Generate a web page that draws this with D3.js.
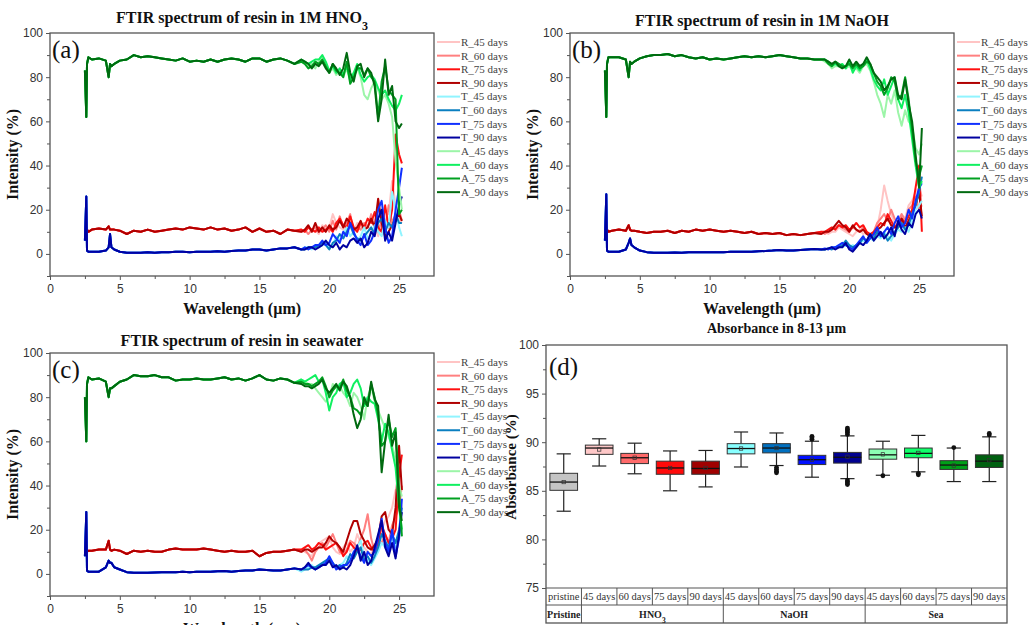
<!DOCTYPE html>
<html>
<head>
<meta charset="utf-8">
<script src="https://cdn.jsdelivr.net/npm/d3@7"></script>
<style>
  body { margin: 0; background: #fff; }
  svg { display: block; }
</style>
</head>
<body>
<svg width="1028" height="625"></svg>
<script>
// ---------- spectra data (wavelength in µm, intensity in %) ----------
const legendNames = ['R_45 days', 'R_60 days', 'R_75 days', 'R_90 days',
                     'T_45 days', 'T_60 days', 'T_75 days', 'T_90 days',
                     'A_45 days', 'A_60 days', 'A_75 days', 'A_90 days']
const lineColors = ['#ffc4c4', '#ff8080', '#ff1010', '#b00000',
                    '#90f4ff', '#0a7fc0', '#1030ff', '#0000a0',
                    '#9cf5a8', '#10f060', '#00a020', '#006a10']

const headX = [2.5, 2.6, 2.65, 2.75, 3, 3.5, 4, 4.2, 4.3, 4.4, 4.6, 5, 5.5, 6, 6.5, 7, 7.5, 8, 8.5, 9,
               9.5, 10, 10.5, 11, 11.5, 12, 12.5, 13, 13.5, 14, 14.5, 15, 15.5, 16, 16.5, 17, 17.5]
const tailX = [18, 18.25, 18.5, 18.75, 19, 19.25, 19.5, 19.75, 20, 20.25, 20.5, 20.75, 21, 21.25, 21.5,
               21.75, 22, 22.25, 22.5, 22.75, 23, 23.25, 23.5, 23.75, 24, 24.25, 24.5, 24.75, 25, 25.2]

// (a) 1M HNO3
const hno3HeadR = [10, 12, 11, 10, 11, 11.5, 11, 12.5, 11, 11, 11, 10.5, 9, 10.5, 10, 11, 10, 10.5, 11, 11.5, 11, 12, 11.5, 11, 12, 11, 11.5, 10.5, 11, 12, 10, 11.5, 10, 10.5, 9, 11, 10.5]
const hno3HeadT = [6, 26, 1.5, 1, 1, 1, 1.5, 3, 9, 3, 2, 1, 0.5, 0.5, 0.5, 0.7, 0.5, 0.8, 0.7, 1, 1, 0.8, 1, 1, 1, 1.2, 1, 1.3, 1.5, 1.5, 2, 2, 1.5, 2, 2.5, 2.5, 3]
const hno3HeadA = [83, 62, 86, 89, 88, 88.5, 87.5, 80, 86, 85, 86, 87.5, 88, 90, 89, 89.5, 89, 88.5, 88, 87.5, 88.5, 87, 87.5, 87, 88, 87, 88, 88.5, 88, 87, 88.5, 88.5, 87, 88, 88.5, 87.5, 86]
const hno3Tails = [
  [11, 10, 12, 10, 11, 9, 13, 11, 12, 18, 14, 12, 11, 13, 12, 10, 14, 12, 11, 13, 10, 12, 8, 14, 20, 18, 33, 22, 16, 14],
  [10, 11, 9, 11, 12, 10, 11, 13, 10, 15, 11, 17, 12, 14, 18, 10, 12, 11, 14, 12, 18, 12, 10, 15, 12, 22, 14, 18, 20, 15],
  [11, 10, 12, 11, 10, 12, 10, 11, 12, 10, 14, 16, 13, 12, 17, 12, 10, 14, 12, 16, 14, 19, 12, 10, 22, 12, 20, 54, 45, 41],
  [10, 11, 13, 10, 14, 10, 12, 10, 13, 11, 12, 15, 12, 16, 14, 11, 12, 15, 11, 12, 16, 12, 25, 14, 8, 10, 13, 16, 18, 15],
  [2, 3, 3, 2, 4, 3, 4, 5, 3, 4, 8, 6, 9, 12, 8, 10, 6, 8, 12, 7, 9, 13, 10, 8, 15, 12, 28, 20, 12, 8],
  [2, 2, 3, 3, 3, 4, 5, 4, 2, 5, 6, 9, 7, 10, 13, 9, 7, 6, 8, 10, 12, 9, 14, 16, 10, 14, 12, 18, 14, 14],
  [2, 3, 2, 3, 4, 4, 6, 4, 5, 9, 7, 5, 10, 8, 14, 10, 6, 4, 9, 4, 6, 10, 20, 24, 12, 5, 8, 20, 30, 39],
  [2, 2, 3, 3, 2, 3, 4, 6, 4, 3, 5, 2, 4, 3, 6, 7, 5, 7, 3, 5, 10, 8, 16, 20, 6, 10, 6, 14, 22, 26],
  [87, 86, 85, 86, 84, 87, 89, 86, 82, 84, 81, 83, 80, 84, 78, 81, 84, 80, 72, 70, 75, 78, 74, 70, 72, 68, 62, 42, 30, 20],
  [88, 87, 86, 87, 88, 88, 90, 87, 83, 85, 82, 84, 81, 85, 79, 82, 86, 81, 78, 80, 81, 79, 75, 72, 74, 70, 67, 65, 68, 72],
  [87, 86, 84, 85, 87, 86, 88, 85, 82, 86, 83, 82, 80, 87, 77, 80, 84, 84, 81, 84, 80, 78, 62, 78, 85, 74, 72, 70, 18, 20],
  [88, 87, 86, 84, 86, 85, 87, 84, 82, 86, 84, 81, 84, 91, 82, 78, 85, 86, 80, 84, 82, 76, 60, 70, 88, 72, 76, 60, 57, 59]
]

// (b) 1M NaOH
const naohHeadR = [9, 12, 11, 10, 10.5, 11, 10.5, 13, 11, 10.5, 10.5, 10, 9.5, 10, 10, 10.5, 9.5, 10.5, 10, 11, 10.5, 11, 10.5, 10, 10.5, 10, 9.5, 10, 9, 9.5, 9, 9.5, 8.5, 9, 8.5, 9, 9.5]
const naohHeadT = [6, 27, 1.5, 1, 1, 1, 2, 5, 7, 4, 3, 1.5, 0.8, 0.5, 0.5, 0.5, 0.6, 0.5, 0.7, 0.8, 0.8, 0.7, 0.8, 0.8, 1, 1, 1, 1, 1.2, 1.3, 1.5, 1.8, 1.5, 1.5, 1.8, 2, 2.2]
const naohHeadA = [83, 62, 86, 89, 89, 89, 88, 80, 87, 86, 87, 88.5, 89.5, 90, 90, 90.5, 89.5, 90, 89, 88.5, 89, 88, 88.5, 88, 88.5, 89, 89.5, 89, 89.5, 89, 89.5, 90, 89.5, 89, 88.5, 88.5, 88]
const naohTails = [
  [9, 10, 9, 10, 10, 12, 11, 10, 9, 8, 10, 11, 9, 10, 8, 9, 12, 20, 31, 24, 18, 14, 16, 18, 16, 22, 24, 28, 30, 26],
  [10, 9, 10, 11, 12, 13, 12, 11, 10, 12, 11, 10, 12, 9, 8, 10, 14, 16, 18, 15, 20, 16, 14, 18, 15, 20, 22, 26, 20, 22],
  [10, 10, 11, 12, 11, 13, 12, 13, 11, 12, 14, 12, 13, 10, 9, 10, 12, 14, 13, 18, 15, 12, 14, 16, 14, 17, 20, 30, 40, 10],
  [9, 10, 10, 11, 13, 15, 13, 12, 10, 13, 11, 10, 11, 9, 8, 9, 11, 12, 14, 16, 13, 12, 12, 16, 12, 15, 18, 22, 28, 17],
  [2, 2, 2.5, 3, 3, 4, 3, 4, 3, 4, 3, 5, 6, 5, 7, 6, 8, 7, 10, 8, 6, 9, 11, 10, 12, 10, 15, 20, 22, 24],
  [2, 2, 2.5, 2, 3, 3, 4, 6, 4, 3, 4, 5, 7, 6, 9, 7, 10, 8, 9, 6, 8, 10, 12, 14, 11, 13, 18, 22, 28, 35],
  [2, 2.5, 2, 3, 3, 4, 5, 4, 3, 2, 4, 6, 8, 5, 7, 9, 12, 8, 10, 12, 9, 14, 17, 12, 14, 20, 16, 24, 30, 32],
  [2, 2, 2.5, 3, 2, 3, 3, 5, 2, 1, 3, 5, 4, 6, 9, 6, 8, 10, 7, 9, 12, 8, 15, 11, 9, 14, 12, 18, 20, 16],
  [88, 87, 86, 84, 85, 85, 85, 84, 85, 83, 84, 82, 85, 86, 83, 78, 72, 68, 62, 72, 68, 74, 64, 58, 65, 60, 58, 48, 45, 50],
  [88, 88, 87, 85, 86, 85, 86, 84, 87, 82, 85, 83, 86, 88, 84, 79, 76, 74, 79, 72, 76, 80, 70, 66, 72, 64, 52, 40, 30, 33],
  [88, 88, 86, 85, 87, 86, 85, 85, 86, 84, 86, 84, 85, 87, 86, 82, 78, 76, 72, 75, 80, 78, 70, 72, 80, 70, 56, 42, 35, 40],
  [88, 88, 87, 86, 87, 85, 84, 85, 88, 85, 87, 85, 86, 89, 86, 82, 80, 78, 74, 76, 79, 80, 72, 70, 79, 68, 60, 45, 30, 57]
]

// (c) seawater
const seaHeadR = [9, 11, 10, 10.5, 10.5, 11, 11, 15, 11, 10.5, 11, 10.5, 9, 10.5, 10, 10.5, 10, 10, 11, 11.5, 11, 11, 11, 11.5, 11, 10.5, 10, 10.5, 10, 10, 10.5, 8, 9.5, 10, 10, 10.5, 11]
const seaHeadT = [8, 28, 1.5, 1, 1, 1, 3, 6, 5, 5, 3, 2, 0.8, 0.5, 0.5, 0.5, 0.6, 0.7, 0.8, 0.8, 1, 0.8, 1, 1, 1, 1.2, 1.3, 1, 1.3, 1.5, 1.5, 2, 1.8, 1.5, 1.5, 2, 2.5]
const seaHeadA = [80, 60, 86, 89, 88, 88.5, 87, 80, 84, 84, 85, 87, 88, 90, 89.5, 89.5, 90, 89, 89, 87.5, 88, 88, 88.5, 88, 88, 88.5, 89, 88, 88.5, 87.5, 88.5, 90, 88, 87.5, 88.5, 88, 86.5]
const seaTails = [
  [11, 10, 9, 8, 12, 14, 15, 16, 17, 12, 10, 9, 12, 14, 10, 12, 18, 14, 12, 10, 9, 12, 14, 20, 24, 26, 30, 38, 35, 30],
  [10, 11, 9, 6, 10, 12, 14, 12, 15, 18, 14, 10, 9, 11, 15, 14, 12, 16, 20, 27, 16, 10, 12, 14, 18, 14, 22, 26, 30, 40],
  [11, 12, 13, 11, 12, 14, 13, 11, 12, 13, 14, 12, 8, 10, 14, 12, 10, 11, 14, 15, 12, 10, 14, 22, 18, 14, 16, 20, 45, 54],
  [10, 11, 11, 10, 11, 12, 12, 14, 17, 15, 14, 12, 10, 15, 20, 24, 24, 18, 15, 12, 11, 13, 16, 26, 28, 20, 18, 30, 58, 38],
  [1, 2, 3, 4, 2, 3, 4, 5, 6, 4, 3, 4, 5, 8, 6, 10, 12, 15, 8, 6, 4, 7, 10, 14, 12, 10, 16, 12, 18, 20],
  [2, 2, 2, 3, 3, 4, 5, 6, 7, 5, 3, 4, 3, 5, 9, 7, 10, 12, 6, 8, 5, 8, 12, 18, 15, 12, 18, 14, 20, 30],
  [2, 3, 4, 3, 2, 3, 4, 5, 8, 5, 2, 3, 4, 4, 6, 10, 12, 8, 5, 10, 8, 10, 16, 25, 14, 10, 20, 8, 16, 34],
  [2, 3, 5, 3, 2, 3, 4, 4, 6, 3, 4, 2, 3, 2, 4, 8, 13, 6, 10, 4, 6, 12, 18, 24, 12, 8, 14, 7, 18, 28],
  [88, 87, 86, 86, 84, 82, 80, 78, 80, 86, 84, 85, 82, 80, 76, 82, 80, 76, 70, 80, 85, 78, 74, 70, 66, 62, 58, 52, 40, 35],
  [88, 87, 88, 89, 90, 87, 88, 82, 74, 80, 82, 86, 87, 80, 82, 86, 88, 84, 76, 80, 78, 77, 70, 60, 68, 64, 56, 48, 30, 20],
  [87, 86, 86, 85, 86, 87, 89, 85, 80, 83, 85, 84, 88, 83, 80, 75, 74, 72, 78, 76, 86, 80, 72, 58, 60, 70, 62, 66, 38, 17],
  [86, 85, 85, 84, 85, 86, 88, 84, 82, 84, 86, 83, 87, 85, 80, 72, 66, 70, 80, 76, 87, 79, 76, 46, 60, 72, 58, 64, 30, 24]
]

// ---------- box plot data (absorbance in 8-13 µm, %) ----------
const boxCats = ['pristine', '45 days', '60 days', '75 days', '90 days', '45 days', '60 days', '75 days', '90 days',
                 '45 days', '60 days', '75 days', '90 days']
const boxGroups = ['Pristine', 'HNO3', 'NaOH', 'Sea']
const groupSpans = [1, 4, 4, 4]
const boxColors = ['#c4c4c4', '#ffc8c8', '#ff6a6a', '#ff0a0a', '#a00000', '#88ffff', '#0070c0', '#0010ff', '#000090',
                   '#8cffb4', '#10ff6a', '#00a018', '#006010']
const whiskLow = [82.9, 87.55, 86.75, 85.0, 85.4, 87.45, 87.6, 86.4, 86.25, 86.6, 86.95, 85.95, 85.95]
const q1s      = [85.05, 88.75, 87.8, 86.7, 86.7, 88.8, 88.9, 87.7, 87.85, 88.25, 88.4, 87.2, 87.4]
const medians  = [85.9, 89.4, 88.4, 87.35, 87.3, 89.35, 89.4, 88.2, 88.45, 88.7, 88.85, 87.65, 88.05]
const q3s      = [86.8, 89.7, 88.85, 88.05, 88.05, 89.85, 89.85, 88.65, 88.95, 89.3, 89.4, 88.1, 88.7]
const whiskHigh = [88.8, 90.35, 89.9, 89.1, 89.15, 91.05, 90.95, 90.1, 90.65, 90.1, 90.7, 89.4, 90.55]
const means    = [85.9, 89.25, 88.4, 87.35, 87.35, 89.35, 89.4, 88.2, 88.5, 88.75, 88.9, 87.6, 88.15]
const outliers = [[], [], [], [], [], [], [87.4, 87.2, 87.0, 86.85], [90.3, 90.45, 90.6],
                  [90.8, 91.0, 91.15, 91.3, 91.45, 86.1, 85.95, 85.8, 85.65], [86.55], [86.8, 86.65], [89.45], [90.75, 90.9]]

// ---------- drawing ----------
const svg = d3.select('svg')
const serif = '"Liberation Serif", "Times New Roman", serif'
const sans = '"Liberation Sans", Arial, sans-serif'
const axisColor = '#555'

function styleAxis(sel) {
  sel.select('.domain').remove()
  sel.selectAll('line').attr('stroke', axisColor)
  sel.selectAll('text').attr('fill', '#333').style('font-family', sans).style('font-size', '12px')
}

function chemText(sel, parts) {
  // parts: [text, isSub]
  parts.forEach(([t, sub]) => {
    const ts = sel.append('tspan').text(t)
    if (sub) ts.attr('baseline-shift', 'sub').style('font-size', '0.75em')
  })
}

function drawSpectrum(p) {
  const x = d3.scaleLinear().domain([0, 27.5]).range([p.left, p.right])
  const y = d3.scaleLinear().domain([-10, 100]).range([p.bottom, p.top])
  const g = svg.append('g')

  g.append('g').attr('transform', `translate(0,${p.bottom})`)
    .call(d3.axisBottom(x).tickValues([0, 5, 10, 15, 20, 25]).tickSize(4).tickPadding(4))
    .call(styleAxis)
  g.append('g').attr('transform', `translate(0,${p.bottom})`)
    .call(d3.axisBottom(x).tickValues([2.5, 7.5, 12.5, 17.5, 22.5]).tickSize(3).tickFormat(''))
    .call(styleAxis)
  g.append('g').attr('transform', `translate(${p.left},0)`)
    .call(d3.axisLeft(y).tickValues([0, 20, 40, 60, 80, 100]).tickSize(4).tickPadding(3))
    .call(styleAxis)
  g.append('g').attr('transform', `translate(${p.left},0)`)
    .call(d3.axisLeft(y).tickValues([-10, 10, 30, 50, 70, 90]).tickSize(3).tickFormat(''))
    .call(styleAxis)

  const line = d3.line().x(d => x(d[0])).y(d => y(d[1]))
  const allX = headX.concat(tailX)
  const series = p.tails.map((tail, i) => {
    const head = i < 4 ? p.headR : i < 8 ? p.headT : p.headA
    const vals = head.concat(tail)
    return { name: legendNames[i], color: lineColors[i], pts: allX.map((xv, j) => [xv, vals[j]]) }
  })

  g.append('g').selectAll('path')
    .data(series)
    .join('path')
    .attr('d', d => line(d.pts))
    .attr('fill', 'none')
    .attr('stroke', d => d.color)
    .attr('stroke-width', 2)
    .attr('stroke-linejoin', 'round')

  g.append('rect')
    .attr('x', p.left).attr('y', p.top)
    .attr('width', p.right - p.left).attr('height', p.bottom - p.top)
    .attr('fill', 'none').attr('stroke', axisColor).attr('stroke-width', 1.3)

  // title
  const t = g.append('text')
    .attr('x', (p.left + p.right) / 2).attr('y', p.titleY)
    .attr('text-anchor', 'middle')
    .style('font-family', serif).style('font-weight', 'bold').style('font-size', '16px')
    .attr('fill', '#111')
  chemText(t, p.title)

  g.append('text')
    .attr('x', p.left + 2).attr('y', p.top + 25)
    .style('font-family', serif).style('font-size', '25px').attr('fill', '#111')
    .text(p.tag)

  g.append('text')
    .attr('transform', `translate(${p.left - 32},${(p.top + p.bottom) / 2}) rotate(-90)`)
    .attr('text-anchor', 'middle')
    .style('font-family', serif).style('font-weight', 'bold').style('font-size', '16px')
    .attr('fill', '#111')
    .text('Intensity (%)')

  g.append('text')
    .attr('x', (p.left + p.right) / 2).attr('y', p.bottom + 38)
    .attr('text-anchor', 'middle')
    .style('font-family', serif).style('font-weight', 'bold').style('font-size', '16px')
    .attr('fill', '#111')
    .text('Wavelength (µm)')

  // legend
  const lg = g.append('g').attr('transform', `translate(${p.right + 3},${p.top + 9})`)
  const item = lg.selectAll('g').data(series).join('g')
    .attr('transform', (d, i) => `translate(0,${i * 13.65})`)
  item.append('line').attr('x1', 0).attr('x2', 23)
    .attr('stroke', d => d.color).attr('stroke-width', 2)
  item.append('text').attr('x', 24).attr('dy', '0.35em')
    .style('font-family', serif).style('font-size', '11px').attr('fill', '#444')
    .text(d => d.name)
}

drawSpectrum({ left: 50, right: 434, top: 33, bottom: 276, titleY: 23, tag: '(a)',
  title: [['FTIR spectrum of resin in 1M HNO', false], ['3', true]],
  headR: hno3HeadR, headT: hno3HeadT, headA: hno3HeadA, tails: hno3Tails })
drawSpectrum({ left: 570, right: 954, top: 33, bottom: 276, titleY: 26, tag: '(b)',
  title: [['FTIR spectrum of resin in 1M NaOH', false]],
  headR: naohHeadR, headT: naohHeadT, headA: naohHeadA, tails: naohTails })
drawSpectrum({ left: 50, right: 434, top: 353, bottom: 596, titleY: 346, tag: '(c)',
  title: [['FTIR spectrum of resin in seawater', false]],
  headR: seaHeadR, headT: seaHeadT, headA: seaHeadA, tails: seaTails })

// ---------- (d) box plot ----------
const dL = 546, dR = 1007, dT = 345, dB = 588, row1 = 605, row2 = 623
const bx = d3.scaleBand().domain(d3.range(boxCats.length)).range([dL, dR])
const by = d3.scaleLinear().domain([75, 100]).range([dB, dT])
const dg = svg.append('g')

dg.append('g').attr('transform', `translate(${dL},0)`)
  .call(d3.axisLeft(by).tickValues([75, 80, 85, 90, 95, 100]).tickSize(4).tickPadding(3))
  .call(styleAxis)
dg.append('g').attr('transform', `translate(${dL},0)`)
  .call(d3.axisLeft(by).tickValues([77.5, 82.5, 87.5, 92.5, 97.5]).tickSize(3).tickFormat(''))
  .call(styleAxis)

const bw = bx.bandwidth()
const boxes = dg.append('g').selectAll('g')
  .data(boxCats.map((c, i) => ({ i, lo: whiskLow[i], q1: q1s[i], med: medians[i], q3: q3s[i],
    hi: whiskHigh[i], mean: means[i], out: outliers[i], color: boxColors[i] })))
  .join('g')
  .attr('transform', d => `translate(${bx(d.i) + bw / 2},0)`)

boxes.append('line').attr('y1', d => by(d.lo)).attr('y2', d => by(d.hi))
  .attr('stroke', '#222').attr('stroke-width', 1.2)
boxes.selectAll('.cap').data(d => [d.lo, d.hi]).join('line').classed('cap', true)
  .attr('x1', -bw * 0.2).attr('x2', bw * 0.2)
  .attr('y1', v => by(v)).attr('y2', v => by(v))
  .attr('stroke', '#222').attr('stroke-width', 1.2)
boxes.append('rect')
  .attr('x', -bw * 0.39).attr('width', bw * 0.78)
  .attr('y', d => by(d.q3)).attr('height', d => by(d.q1) - by(d.q3))
  .attr('fill', d => d.color).attr('stroke', '#333').attr('stroke-width', 1)
boxes.append('line').attr('x1', -bw * 0.39).attr('x2', bw * 0.39)
  .attr('y1', d => by(d.med)).attr('y2', d => by(d.med))
  .attr('stroke', '#111').attr('stroke-width', 1.3)
boxes.append('rect')
  .attr('x', -1.7).attr('width', 3.4)
  .attr('y', d => by(d.mean) - 1.7).attr('height', 3.4)
  .attr('fill', 'none').attr('stroke', '#333').attr('stroke-width', 0.7)
boxes.selectAll('circle').data(d => d.out).join('circle')
  .attr('cx', 0).attr('cy', v => by(v)).attr('r', 2.4).attr('fill', '#111')

// frame and table
dg.append('rect').attr('x', dL).attr('y', dT).attr('width', dR - dL).attr('height', row2 - dT)
  .attr('fill', 'none').attr('stroke', axisColor).attr('stroke-width', 1.3)
dg.append('line').attr('x1', dL).attr('x2', dR).attr('y1', dB).attr('y2', dB)
  .attr('stroke', axisColor).attr('stroke-width', 1.2)
dg.append('line').attr('x1', dL).attr('x2', dR).attr('y1', row1).attr('y2', row1)
  .attr('stroke', axisColor).attr('stroke-width', 1)
dg.selectAll('.cellsep').data(d3.range(1, boxCats.length)).join('line').classed('cellsep', true)
  .attr('x1', i => bx(i)).attr('x2', i => bx(i)).attr('y1', dB).attr('y2', row1)
  .attr('stroke', axisColor).attr('stroke-width', 1)
dg.selectAll('.cell').data(boxCats).join('text').classed('cell', true)
  .attr('x', (c, i) => bx(i) + bw / 2).attr('y', (dB + row1) / 2).attr('dy', '0.35em')
  .attr('text-anchor', 'middle')
  .style('font-family', serif).style('font-size', '10.5px').attr('fill', '#333')
  .text(c => c)

const groupStarts = groupSpans.map((s, i) => d3.sum(groupSpans.slice(0, i)))
dg.selectAll('.gsep').data(groupStarts.slice(1)).join('line').classed('gsep', true)
  .attr('x1', s => bx(s)).attr('x2', s => bx(s)).attr('y1', row1).attr('y2', row2)
  .attr('stroke', axisColor).attr('stroke-width', 1)
dg.selectAll('.grp').data(boxGroups).join('text').classed('grp', true)
  .attr('x', (gname, i) => bx(groupStarts[i]) + groupSpans[i] * bw / 2)
  .attr('y', (row1 + row2) / 2).attr('dy', '0.35em')
  .attr('text-anchor', 'middle')
  .style('font-family', serif).style('font-weight', 'bold').style('font-size', '10px').attr('fill', '#222')
  .each(function (gname) {
    if (gname === 'HNO3') chemText(d3.select(this), [['HNO', false], ['3', true]])
    else d3.select(this).text(gname)
  })

dg.append('text')
  .attr('x', (dL + dR) / 2).attr('y', 333)
  .attr('text-anchor', 'middle')
  .style('font-family', serif).style('font-weight', 'bold').style('font-size', '14px').attr('fill', '#111')
  .text('Absorbance in 8-13 µm')
dg.append('text')
  .attr('x', dL + 3).attr('y', dT + 30)
  .style('font-family', serif).style('font-size', '25px').attr('fill', '#111')
  .text('(d)')
dg.append('text')
  .attr('transform', `translate(${dL - 30},${467}) rotate(-90)`)
  .attr('text-anchor', 'middle')
  .style('font-family', serif).style('font-weight', 'bold').style('font-size', '15px').attr('fill', '#111')
  .text('Absorbance (%)')
</script>
</body>
</html>
